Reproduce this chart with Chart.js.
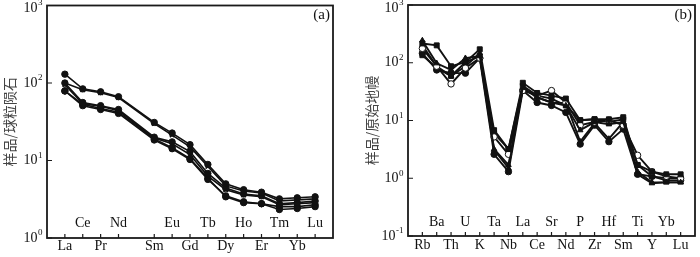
<!DOCTYPE html>
<html lang="zh">
<head>
<meta charset="UTF-8">
<title>稀土元素配分图与微量元素蛛网图</title>
<script src="https://cdn.jsdelivr.net/npm/chart.js"></script>
<style>
    body { margin: 0; background: #fff; }
    .panel { position: absolute; top: 0; width: 350px; height: 257px; }
</style>
</head>
<body>
<div class="panel" style="left:0"><canvas id="chartA" width="350" height="257"></canvas></div>
<div class="panel" style="left:350px"><canvas id="chartB" width="350" height="257"></canvas></div>
<script>
    // (a) 球粒陨石标准化稀土元素，Pm 留空
    const reeElements = ['La','Ce','Pr','Nd','Pm','Sm','Eu','Gd','Tb','Dy','Ho','Er','Tm','Yb','Lu'];
    const reeS1 = [130, 84, 77, 66.5, null, 31, 22.6, 16, 8.9, 5.0, 4.2, 3.9, 3.2, 3.3, 3.4];
    const reeS2 = [100, 82, 75, 65, null, 30, 21.3, 15, 8.4, 4.7, 4.05, 3.8, 3.0, 3.1, 3.2];
    const reeS3 = [100, 56, 51, 45.5, null, 20, 17.4, 13, 6.8, 4.4, 3.7, 3.5, 2.77, 2.86, 3.0];
    const reeS4 = [95, 54, 50, 44, null, 19.5, 16.4, 11.9, 6.3, 4.2, 3.6, 3.4, 2.69, 2.77, 2.86];
    const reeS5 = [79, 53, 47, 42, null, 19, 14.6, 10.6, 5.9, 3.4, 2.86, 2.77, 2.33, 2.4, 2.54];
    const reeS6 = [79, 51, 45.5, 40.5, null, 18.4, 14.2, 10.3, 5.7, 3.5, 2.94, 2.77, 2.54, 2.54, 2.69];
    const reeTicks = [1, 10, 100, 1000];

    // (b) 原始地幔标准化微量元素
    const traceElements = ['Rb','Ba','Th','U','K','Ta','Nb','La','Ce','Sr','Nd','P','Zr','Hf','Sm','Ti','Y','Yb','Lu'];
    const trS1 = [216, 200, 87, 102, 171, 6.8, 3.2, 45, 30, 27, 24, 10.1, 10.5, 10.5, 11.4, 1.7, 1.3, 1.17, 1.17];
    const trS2 = [243, 98, 75, 120, 130, 3.1, 1.5, 37, 25, 20.5, 18.2, 6.8, 9.4, 8.6, 9.4, 1.3, 0.85, 0.85, 0.85];
    const trS3 = [177, 87, 43, 81, 120, 5.2, 2.6, 33, 27, 33, 20.5, 8.3, 9.4, 10.1, 8.3, 2.5, 1.3, 1.08, 1.0];
    const trS4 = [146, 75, 66, 66, 120, 2.6, 1.3, 33, 20.5, 18.2, 13.8, 3.9, 8.3, 4.3, 7.1, 1.17, 1.08, 0.92, 0.92];
    const trS5 = [135, 81, 59, 102, 130, 6.0, 3.2, 40, 27, 24, 18.2, 10.1, 10.5, 9.4, 10.5, 1.7, 1.08, 1.0, 1.0];
    const trS6 = [200, 87, 59, 87, 146, 3.2, 1.7, 37, 25, 20.5, 20, 4.3, 9.0, 4.8, 9.4, 1.17, 0.82, 0.85, 0.85];
    const traceTicks = [0.1, 1, 10, 100, 1000];

    const serif = 'Liberation Serif';

    function toPoints(values) {
        const pts = [];
        values.forEach((v, i) => { if (v !== null) pts.push({ x: i, y: v }); });
        return pts;
    }

    function series(values, style, hollow, width) {
        return {
            data: toPoints(values),
            borderColor: '#111',
            borderWidth: width || 1.6,
            pointStyle: style,
            pointRadius: style === 'rect' ? 3.5 : (style === 'triangle' ? 3.2 : 3.2),
            pointBorderWidth: style === 'crossRot' ? 1.5 : 1,
            pointBorderColor: '#111',
            pointBackgroundColor: hollow ? '#fff' : '#111',
            spanGaps: true
        };
    }

    // 边框、内向刻度、y 轴上标、内侧元素标签、图号
    const decorations = {
        id: 'decorations',
        afterDraw(chart, args, o) {
            const { ctx, chartArea: a, scales: { x, y } } = chart;
            ctx.save();
            ctx.strokeStyle = '#1a1a1a';
            ctx.lineWidth = 1.8;
            ctx.strokeRect(a.left, a.top, a.right - a.left, a.bottom - a.top);

            ctx.lineWidth = 1.2;
            ctx.beginPath();
            o.elements.forEach((el, i) => {
                if (el === 'Pm') return;
                const px = x.getPixelForValue(i);
                ctx.moveTo(px, a.bottom);
                ctx.lineTo(px, a.bottom - 4);
            });
            o.yTicks.forEach(v => {
                const py = y.getPixelForValue(v);
                ctx.moveTo(a.left, py);
                ctx.lineTo(a.left + 5, py);
            });
            ctx.stroke();

            // y 轴标签 10^n
            ctx.fillStyle = '#111';
            o.yTicks.forEach(v => {
                const exp = String(Math.round(Math.log10(v)));
                const py = Math.max(y.getPixelForValue(v), 8);
                ctx.font = '9px ' + serif;
                const ew = ctx.measureText(exp).width;
                const right = a.left - 5 - ew;
                ctx.font = '14px ' + serif;
                ctx.textAlign = 'right';
                ctx.textBaseline = 'middle';
                ctx.fillText('10', right, py);
                ctx.font = '9px ' + serif;
                ctx.textAlign = 'left';
                ctx.fillText(exp, right + 0.5, py - 5);
            });

            // 内侧一行元素标签
            ctx.font = '14px ' + serif;
            ctx.textAlign = 'center';
            ctx.textBaseline = 'middle';
            let k = 0;
            o.elements.forEach((el, i) => {
                if (el === 'Pm') return;
                if (k % 2 === 1) ctx.fillText(el, x.getPixelForValue(i), a.bottom - o.innerOffset);
                k++;
            });

            ctx.textAlign = 'right';
            ctx.font = '15px ' + serif;
            ctx.fillText(o.tag, a.right - 3, 15);
            ctx.restore();
        }
    };

    function makeChart(id, elements, datasets, yMin, yMax, yTicks, title, tag, dims) {
        // 底部一行元素标签（隔一个）
        const bottomIdx = [];
        let k = 0;
        elements.forEach((el, i) => {
            if (el === 'Pm') return;
            if (k % 2 === 0) bottomIdx.push(i);
            k++;
        });
        return new Chart(document.getElementById(id).getContext('2d'), {
            type: 'line',
            data: { datasets: datasets },
            options: {
                responsive: false,
                animation: false,
                devicePixelRatio: 1,
                layout: { padding: dims.padding },
                plugins: {
                    legend: { display: false },
                    tooltip: { enabled: false },
                    decorations: { elements: elements, yTicks: yTicks, tag: tag, innerOffset: dims.innerOffset }
                },
                scales: {
                    x: {
                        type: 'linear',
                        min: -1,
                        max: elements.length,
                        grid: { display: false, drawTicks: false, tickLength: 0 },
                        border: { display: false },
                        afterBuildTicks: s => { s.ticks = bottomIdx.map(v => ({ value: v })); },
                        afterFit: s => { s.height = dims.xHeight; s.paddingLeft = 0; s.paddingRight = 0; },
                        ticks: {
                            autoSkip: false,
                            maxRotation: 0,
                            padding: dims.labelPad,
                            color: '#111',
                            font: { family: serif, size: 14 },
                            callback: v => elements[v]
                        }
                    },
                    y: {
                        type: 'logarithmic',
                        min: yMin,
                        max: yMax,
                        grid: { display: false, drawTicks: false },
                        border: { display: false },
                        ticks: { display: false },
                        afterFit: s => { s.width = dims.yWidth; s.paddingTop = 0; s.paddingBottom = 0; },
                        title: {
                            display: true,
                            text: title,
                            color: '#444',
                            padding: { top: 1, bottom: 0 },
                            font: { family: 'Noto Sans CJK SC', size: 14 }
                        }
                    }
                }
            },
            plugins: [decorations]
        });
    }

    makeChart('chartA', reeElements, [
        series(reeS1, 'circle'),
        series(reeS2, 'crossRot'),
        series(reeS3, 'circle'),
        series(reeS4, 'crossRot'),
        series(reeS5, 'circle'),
        series(reeS6, 'circle')
    ], 1, 1000, reeTicks, '样品/球粒陨石', '(a)',
        { padding: { top: 1, right: 17, left: 0, bottom: 0 }, yWidth: 47, xHeight: 19, innerOffset: 15, labelPad: 0 });

    makeChart('chartB', traceElements, [
        series(trS1, 'rect', false, 1.9),
        series(trS2, 'triangle', false, 1.9),
        series(trS3, 'circle', true, 1.9),
        series(trS4, 'circle', false, 1.9),
        series(trS5, 'rect', false, 1.9),
        series(trS6, 'triangle', false, 1.9)
    ], 0.1, 1000, traceTicks, '样品/原始地幔', '(b)',
        { padding: { top: 1, right: 2, left: 12, bottom: 0 }, yWidth: 46, xHeight: 21, innerOffset: 14, labelPad: 1 });
</script>
</body>
</html>
